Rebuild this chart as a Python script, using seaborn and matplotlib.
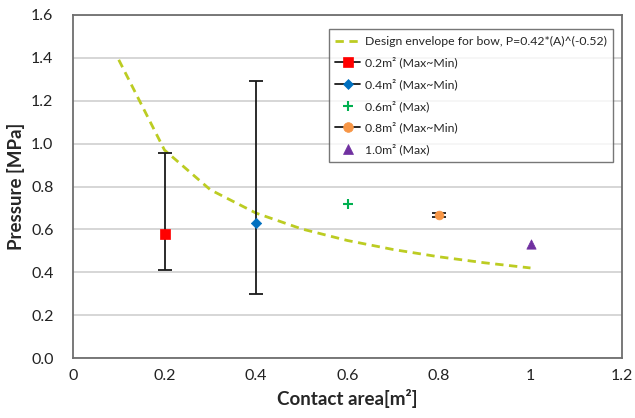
import matplotlib
matplotlib.use("Agg")
import matplotlib.pyplot as plt
import seaborn as sns
import pandas as pd
from matplotlib.lines import Line2D

# Design envelope for bow, P = 0.42 * A^(-0.52)
env_area = [0.1, 0.2, 0.3, 0.4, 0.5, 0.6, 0.7, 0.8, 0.9, 1.0]
env_pressure = [1.391, 0.970, 0.785, 0.676, 0.602, 0.548, 0.506, 0.472, 0.444, 0.420]

# Measured pressures per contact area
areas = [0.2, 0.4, 0.6, 0.8, 1.0]
pressure = [0.58, 0.63, 0.72, 0.665, 0.53]
p_max = [0.955, 1.29, None, 0.675, None]
p_min = [0.41, 0.30, None, 0.658, None]
labels = ["0.2m² (Max~Min)", "0.4m² (Max~Min)", "0.6m² (Max)",
          "0.8m² (Max~Min)", "1.0m² (Max)"]
colors = ["#FF0000", "#0070C0", "#00B050", "#F79646", "#7030A0"]
markers = ["s", "D", "+", "o", "^"]
sizes = [55, 28, 55, 40, 45]

sns.set_theme(style="white")
plt.rcParams["font.family"] = ["Lato", "DejaVu Sans"]

fig = plt.figure(figsize=(6.35, 4.18), dpi=100)
ax = fig.add_axes([73 / 635, 1 - 358 / 418, (622 - 73) / 635, (358 - 15) / 418])

env_df = pd.DataFrame({"A": env_area, "P": env_pressure})
sns.lineplot(data=env_df, x="A", y="P", ax=ax, color="#BCCC22", lw=2,
             linestyle=(0, (3, 2)), zorder=3)

# error bars
for a, lo, hi in zip(areas, p_min, p_max):
    if lo is not None:
        ax.errorbar([a], [(lo + hi) / 2], yerr=[[(hi - lo) / 2], [(hi - lo) / 2]],
                    fmt="none", ecolor="#1a1a1a", elinewidth=1.3, capsize=5,
                    capthick=1.3, zorder=4)

pts = pd.DataFrame({"A": areas, "P": pressure, "lab": labels})
for i, row in pts.iterrows():
    sns.scatterplot(x=[row.A], y=[row.P], ax=ax, marker=markers[i], s=sizes[i],
                    color=colors[i], edgecolor=colors[i] if markers[i] != "+" else None,
                    linewidth=1.5 if markers[i] == "+" else 0.5, zorder=5, legend=False)

ax.set_xlim(0, 1.2)
ax.set_ylim(0, 1.6)
ax.set_xticks([0, 0.2, 0.4, 0.6, 0.8, 1.0, 1.2])
ax.set_xticklabels(["0", "0.2", "0.4", "0.6", "0.8", "1", "1.2"])
ax.set_yticks([0, 0.2, 0.4, 0.6, 0.8, 1.0, 1.2, 1.4, 1.6])
ax.set_yticklabels([f"{v:.1f}" for v in ax.get_yticks()])
ax.tick_params(axis="both", labelsize=11.5, length=0, colors="#222222")
ax.tick_params(axis="x", pad=8)
ax.tick_params(axis="y", pad=14)
ax.grid(axis="y", color="#CFCFCF", lw=1.2)
ax.set_axisbelow(True)
for s in ax.spines.values():
    s.set_color("#6E6E6E")
    s.set_linewidth(1.3)
    s.set_visible(True)

ax.set_xlabel("Contact area[m²]", fontsize=13.5, fontweight="bold", labelpad=4)
ax.set_ylabel("Pressure [MPa]", fontsize=13.5, fontweight="bold", labelpad=4)

handles = [Line2D([], [], color="#BCCC22", lw=2, linestyle=(0, (3, 2)))]
for i in range(5):
    has_bar = p_max[i] is not None
    handles.append(Line2D([], [], color="#1a1a1a" if has_bar else "none", lw=1.3,
                          marker=markers[i], markersize=7 if i != 1 else 5,
                          markerfacecolor=colors[i], markeredgecolor=colors[i],
                          markeredgewidth=1.5 if markers[i] == "+" else 0.5))
leg = ax.legend(handles, ["Design envelope for bow, P=0.42*(A)^(-0.52)"] + labels,
                loc="upper right", bbox_to_anchor=(0.984, 0.959), borderaxespad=0,
                fontsize=8.8, frameon=True, fancybox=False, edgecolor="#555555",
                handlelength=2.0, handletextpad=0.4, labelspacing=0.82,
                borderpad=0.55)
leg.get_frame().set_linewidth(1.0)

fig.savefig("out.png", dpi=100)
